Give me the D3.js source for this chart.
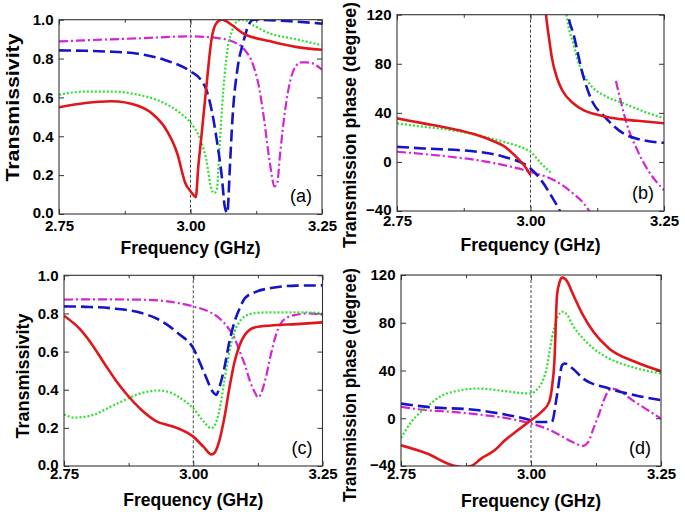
<!DOCTYPE html>
<html><head><meta charset="utf-8">
<script src="https://cdn.jsdelivr.net/npm/d3@7"></script>
<style>
html,body{margin:0;padding:0;background:#fff;}
svg{display:block;font-family:"Liberation Sans",Arial,sans-serif;}
</style></head>
<body><svg id="c" width="685" height="515"></svg>
<script>
// ---------- data ----------
const xTicks = [2.75, 3.00, 3.25];
const xMinor = [2.875, 3.125];
const yTicksT = [0, 0.2, 0.4, 0.6, 0.8, 1.0];
const yTicksP = [-40, 0, 40, 80, 120];
const panelLabels = ["(a)", "(b)", "(c)", "(d)"];

const aRed = [[2.75,0.549],[2.8,0.571],[2.85,0.58],[2.9,0.557],[2.93,0.51],[2.95,0.45],[2.975,0.31],[2.99,0.16],[3.0,0.117],[3.005,0.10],[3.01,0.087],[3.015,0.25],[3.02,0.38],[3.03,0.65],[3.04,0.9],[3.05,0.985],[3.06,1.0],[3.08,0.97],[3.1,0.93],[3.15,0.89],[3.2,0.86],[3.25,0.845]];
const aGreen = [[2.75,0.614],[2.8,0.63],[2.85,0.63],[2.9,0.614],[2.95,0.571],[2.98,0.52],[3.0,0.47],[3.02,0.374],[3.03,0.28],[3.04,0.125],[3.045,0.108],[3.05,0.125],[3.055,0.33],[3.06,0.55],[3.065,0.72],[3.07,0.84],[3.08,0.95],[3.09,0.995],[3.1,1.0],[3.12,0.97],[3.15,0.93],[3.2,0.9],[3.25,0.868]];
const aBlue = [[2.75,0.842],[2.8,0.84],[2.85,0.835],[2.9,0.825],[2.95,0.794],[3.0,0.734],[3.02,0.69],[3.03,0.64],[3.04,0.537],[3.05,0.38],[3.06,0.18],[3.065,0.04],[3.07,0.005],[3.075,0.25],[3.08,0.5],[3.09,0.76],[3.1,0.88],[3.11,0.97],[3.12,1.0],[3.2,0.99],[3.25,0.98]];
const aMagenta = [[2.75,0.888],[2.8,0.894],[2.9,0.904],[3.0,0.914],[3.05,0.906],[3.08,0.888],[3.1,0.854],[3.12,0.76],[3.13,0.657],[3.14,0.485],[3.15,0.28],[3.16,0.142],[3.165,0.16],[3.17,0.3],[3.18,0.537],[3.19,0.69],[3.2,0.76],[3.21,0.78],[3.22,0.78],[3.23,0.777],[3.24,0.763],[3.25,0.743]];

const bRed = [[2.75,35.5],[2.8,31.4],[2.85,27.3],[2.9,21.9],[2.93,17],[2.95,13],[2.97,5.5],[2.99,-4],[3.0,-10.8],null,[3.026,135],[3.029,120],[3.035,100],[3.04,85],[3.05,68],[3.06,58],[3.08,47.8],[3.1,42],[3.12,39],[3.15,36],[3.2,33.5],[3.25,31.5]];
const bGreen = [[2.75,31.4],[2.8,28.7],[2.85,26],[2.9,21.9],[2.95,16.4],[2.98,12.3],[3.0,8.3],[3.02,-1.3],[3.04,-9.5],null,[3.065,130],[3.0675,120],[3.08,96.8],[3.0925,77.8],[3.11,64.1],[3.1425,53.2],[3.174,47.8],[3.205,42.3],[3.25,35.5]];
const bBlue = [[2.75,12.3],[2.8,11],[2.9,8.3],[2.95,4.2],[3.0,-5.4],[3.02,-14.9],[3.04,-28.5],[3.055,-40],[3.06,-45],null,[3.068,130],[3.0706,120],[3.08,105],[3.099,69.6],[3.1175,47.8],[3.136,38.2],[3.174,23.2],[3.205,18.3],[3.25,15.6]];
const bMagenta = [[2.75,8.3],[2.85,4.2],[2.9,1.5],[2.95,-2.6],[3.0,-8.1],[3.05,-16.3],[3.08,-25.8],[3.1,-34],[3.11,-40],[3.12,-46],null,[3.16,66],[3.17,47.8],[3.18,31.4],[3.2,9.6],[3.22,-6.7],[3.25,-23]];

const cRed = [[2.75,0.788],[2.78,0.72],[2.8,0.653],[2.83,0.53],[2.85,0.45],[2.87,0.38],[2.9,0.294],[2.93,0.233],[2.95,0.215],[2.97,0.198],[3.0,0.154],[3.02,0.1],[3.035,0.061],[3.04,0.066],[3.05,0.128],[3.06,0.25],[3.07,0.41],[3.08,0.548],[3.09,0.636],[3.1,0.688],[3.12,0.727],[3.15,0.737],[3.2,0.744],[3.25,0.753]];
const cGreen = [[2.75,0.27],[2.77,0.254],[2.8,0.263],[2.85,0.324],[2.9,0.382],[2.93,0.396],[2.95,0.39],[2.98,0.347],[3.0,0.303],[3.02,0.233],[3.035,0.198],[3.04,0.207],[3.05,0.285],[3.06,0.443],[3.07,0.6],[3.08,0.706],[3.09,0.758],[3.1,0.785],[3.12,0.802],[3.15,0.806],[3.2,0.806],[3.25,0.802]];
const cBlue = [[2.75,0.837],[2.8,0.834],[2.85,0.825],[2.9,0.802],[2.93,0.772],[2.95,0.74],[2.97,0.697],[3.0,0.618],[3.02,0.496],[3.04,0.382],[3.045,0.373],[3.05,0.408],[3.06,0.513],[3.07,0.653],[3.08,0.758],[3.09,0.828],[3.1,0.88],[3.12,0.912],[3.15,0.933],[3.2,0.946],[3.25,0.947]];
const cMagenta = [[2.75,0.872],[2.8,0.874],[2.9,0.872],[2.95,0.863],[3.0,0.837],[3.03,0.81],[3.05,0.776],[3.07,0.715],[3.08,0.67],[3.09,0.6],[3.1,0.53],[3.11,0.443],[3.12,0.382],[3.125,0.359],[3.13,0.373],[3.14,0.46],[3.15,0.583],[3.16,0.688],[3.17,0.75],[3.18,0.776],[3.2,0.793],[3.22,0.8],[3.25,0.793]];

const dRed = [[2.75,-22.7],[2.8,-29.6],[2.85,-39.5],[2.87,-41],[2.885,-40],[2.904,-33.8],[2.93,-26.9],[2.95,-18.5],[2.97,-11.5],[3.0,-1.7],[3.02,5.3],[3.035,13.7],[3.04,24.9],[3.045,47.3],[3.05,103],[3.055,114],[3.06,117.8],[3.07,114.4],[3.08,104.6],[3.1,86.4],[3.12,72.4],[3.15,58.5],[3.2,47.3],[3.25,39.4]];
const dGreen = [[2.75,-16.5],[2.77,-3],[2.8,9.5],[2.83,19.3],[2.85,22.1],[2.9,24.9],[2.95,22.7],[3.0,20.7],[3.01,23.5],[3.02,29.1],[3.03,41.7],[3.04,66.9],[3.05,83.6],[3.06,89.2],[3.07,86.4],[3.08,78],[3.1,66.9],[3.12,58.5],[3.15,50.1],[3.2,42.2],[3.25,37.5]];
const dBlue = [[2.75,12.3],[2.8,9.5],[2.9,6.7],[2.95,3.1],[3.0,-1.7],[3.01,-3.1],[3.04,-3.1],[3.05,19.3],[3.06,44.5],[3.065,45.9],[3.08,41.7],[3.1,33.3],[3.15,24.9],[3.2,19.3],[3.25,15.1]];
const dMagenta = [[2.75,9.5],[2.8,6.7],[2.85,5.3],[2.9,3.1],[2.95,0.3],[3.0,-4.5],[3.03,-8.7],[3.05,-12.9],[3.08,-19.9],[3.1,-23.2],[3.11,-19.9],[3.12,-8.7],[3.13,2.5],[3.14,15.1],[3.15,23.5],[3.155,24.9],[3.2,13.7],[3.22,8.1],[3.25,-0.3]];

// ---------- layout / style ----------
const styles = {
  red:     {color:"#e0161b", width:2.6, dash:null},
  green:   {color:"#2fe02f", width:2.2, dash:"2,2"},
  blue:    {color:"#1515c8", width:2.6, dash:"12,5"},
  magenta: {color:"#d424d4", width:2.2, dash:"9,3,2,3"}
};

const panels = [
  {box:[59,322,19.7,214], y:[0,1], yt:yTicksT, fmt:d3.format(".1f"), lab:"(a)", ytitle:"Transmissivity", ytl:148, ytx:19, yty:107.5, xtb:16.5, xty:254,
   series:[["magenta",aMagenta],["green",aGreen],["blue",aBlue],["red",aRed]]},
  {box:[397,664,14.7,211], y:[-40,120], yt:yTicksP, fmt:d3.format("d"), lab:"(b)", ytitle:"Transmission phase (degree)", ytl:246, ytx:356, yty:125, xtb:15, xty:250.5,
   series:[["magenta",bMagenta],["green",bGreen],["blue",bBlue],["red",bRed]]},
  {box:[64,322.5,275.3,466], y:[0,1], yt:yTicksT, fmt:d3.format(".1f"), lab:"(c)", ytitle:"Transmissivity", ytl:125, ytx:29, yty:376, xtb:12.5, xty:505.5,
   series:[["magenta",cMagenta],["green",cGreen],["blue",cBlue],["red",cRed]]},
  {box:[401,661,275,466], y:[-40,120], yt:yTicksP, fmt:d3.format("d"), lab:"(d)", ytitle:"Transmission phase (degree)", ytl:234, ytx:356, yty:385, xtb:12.5, xty:506.5,
   series:[["magenta",dMagenta],["green",dGreen],["blue",dBlue],["red",dRed]]}
];

const svg = d3.select("#c");
const defs = svg.append("defs");

panels.forEach((p, i) => {
  const [x0,x1,y0,y1] = p.box;
  const x = d3.scaleLinear().domain([2.75,3.25]).range([x0,x1]);
  const y = d3.scaleLinear().domain(p.y).range([y1,y0]);
  const g = svg.append("g");

  defs.append("clipPath").attr("id","clip"+i).append("rect")
    .attr("x",x0).attr("y",y0).attr("width",x1-x0).attr("height",y1-y0);

  // reference dashed line at 3.00
  g.append("line").attr("x1",x(3.0)).attr("x2",x(3.0)).attr("y1",y0).attr("y2",y1)
    .attr("stroke","#444").attr("stroke-width",1).attr("stroke-dasharray","3,2");

  // series
  const line = d3.line().defined(d => d != null).x(d => x(d[0])).y(d => y(d[1])).curve(d3.curveMonotoneX);
  const lg = g.append("g").attr("clip-path","url(#clip"+i+")");
  p.series.forEach(([k, data]) => {
    const s = styles[k];
    lg.append("path").datum(data).attr("d", line)
      .attr("fill","none").attr("stroke",s.color).attr("stroke-width",s.width)
      .attr("stroke-dasharray", s.dash).attr("stroke-linejoin","round");
  });

  // axes with inward ticks
  const fontTick = "bold 15px 'Liberation Sans', Arial, sans-serif";
  const bottom = g.append("g").attr("transform",`translate(0,${y1})`)
    .call(d3.axisBottom(x).tickValues(xTicks).tickFormat(d3.format(".2f")).tickSize(-5).tickPadding(0));
  bottom.select(".domain").remove();
  bottom.selectAll("text").attr("dy",null).attr("y",p.xtb).style("font",fontTick).attr("fill","#000");
  const top = g.append("g").attr("transform",`translate(0,${y0})`)
    .call(d3.axisTop(x).tickValues(xTicks).tickFormat("").tickSize(-5));
  top.select(".domain").remove();
  [y1,y0].forEach((yy, j) => {
    g.append("g").attr("transform",`translate(0,${yy})`)
      .call((j===0?d3.axisBottom(x):d3.axisTop(x)).tickValues(xMinor).tickFormat("").tickSize(-3))
      .select(".domain").remove();
  });
  const left = g.append("g").attr("transform",`translate(${x0},0)`)
    .call(d3.axisLeft(y).tickValues(p.yt).tickFormat(p.fmt).tickSize(-5).tickPadding(5.5));
  left.select(".domain").remove();
  left.selectAll("text").style("font",fontTick).attr("fill","#000")
    .attr("dy", d => d === p.y[0] ? "0.2em" : "0.32em");
  const right = g.append("g").attr("transform",`translate(${x1},0)`)
    .call(d3.axisRight(y).tickValues(p.yt).tickFormat("").tickSize(-5));
  right.select(".domain").remove();
  g.selectAll(".tick line").attr("stroke","#333");

  // frame
  g.append("rect").attr("x",x0).attr("y",y0).attr("width",x1-x0).attr("height",y1-y0)
    .attr("fill","none").attr("stroke","#333").attr("stroke-width",1.1);

  // titles
  g.append("text").attr("x",(x0+x1)/2).attr("y",p.xty).attr("text-anchor","middle")
    .style("font","bold 17.5px 'Liberation Sans', Arial, sans-serif").text("Frequency (GHz)");
  g.append("text").attr("transform",`translate(${p.ytx},${p.yty}) rotate(-90)`).attr("text-anchor","middle")
    .attr("textLength",p.ytl).attr("lengthAdjust","spacingAndGlyphs")
    .style("font","bold 17.5px 'Liberation Sans', Arial, sans-serif").text(p.ytitle);

  // panel label
  g.append("text").attr("x",x1-10).attr("y",y1-12).attr("text-anchor","end")
    .style("font","18px 'Liberation Sans', Arial, sans-serif").text(p.lab);
});
</script>
</body></html>
